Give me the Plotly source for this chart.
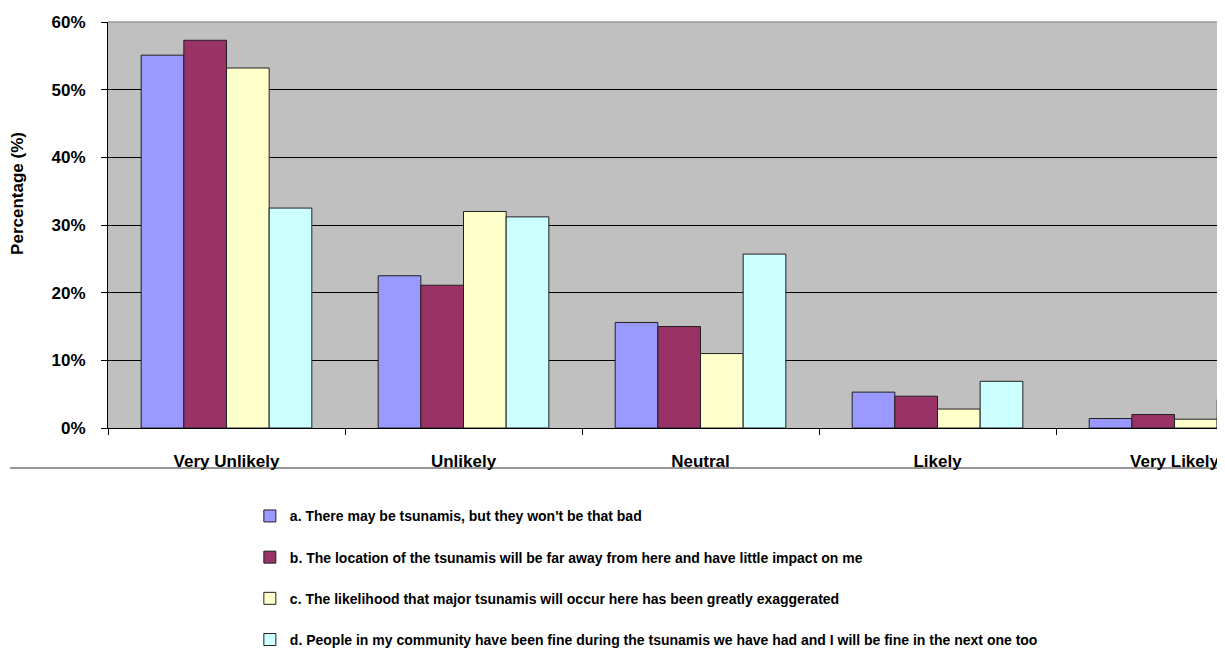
import plotly.graph_objects as go

categories = ["Very Unlikely", "Unlikely", "Neutral", "Likely", "Very Likely"]
series_names = [
    "a. There may be tsunamis, but they won't be that bad",
    "b. The location of the tsunamis will be far away from here and have little impact on me",
    "c. The likelihood that major tsunamis will occur here has been greatly exaggerated",
    "d. People in my community have been fine during the tsunamis we have had and I will be fine in the next one too",
]
series_a = [55.1, 22.5, 15.6, 5.3, 1.4]
series_b = [57.3, 21.1, 15.0, 4.7, 2.0]
series_c = [53.2, 32.0, 11.0, 2.8, 1.3]
series_d = [32.5, 31.2, 25.7, 6.9, 4.2]
y_ticks = [0, 10, 20, 30, 40, 50, 60]
y_ticklabels = ["0%", "10%", "20%", "30%", "40%", "50%", "60%"]

colors = ["#9999FF", "#993366", "#FFFFCC", "#CCFFFF"]
FONT = "Liberation Sans, Arial, sans-serif"

fig = go.Figure()
for i, (name, vals) in enumerate(zip(series_names, [series_a, series_b, series_c, series_d])):
    fig.add_trace(go.Bar(
        x=categories, y=vals, name=name,
        marker=dict(color=colors[i], line=dict(color="#202020", width=1)),
        legendgroup=f"g{i}",
    ))

fig.update_layout(
    width=1217, height=644,
    margin=dict(l=100, r=0, t=14, b=224, autoexpand=False),
    paper_bgcolor="white",
    plot_bgcolor="#C0C0C0",
    barmode="group",
    bargap=0.28,
    bargroupgap=0,
    font=dict(family=FONT, color="#000000"),
    legend=dict(
        orientation="v",
        x=0.127, xanchor="left",
        yref="container", y=0.2355, yanchor="top",
        font=dict(family=FONT, size=14, weight="bold"),
        tracegroupgap=20,
        itemwidth=30,
        bgcolor="rgba(0,0,0,0)",
    ),
    xaxis=dict(
        range=[-0.5, 4.213],
        showline=True, linecolor="#000000", linewidth=1,
        ticks="outside", tickson="boundaries", ticklen=6, tickcolor="#000000",
        tickfont=dict(family=FONT, size=17, weight="bold"),
        ticklabelstandoff=18,
        showgrid=False,
    ),
    yaxis=dict(
        range=[0, 60],
        tickvals=y_ticks, ticktext=y_ticklabels,
        showline=True, linecolor="#000000", linewidth=1,
        ticks="outside", ticklen=6, tickcolor="#000000",
        tickfont=dict(family=FONT, size=17, weight="bold"),
        ticklabelstandoff=12,
        showgrid=True, gridcolor="#000000", gridwidth=1,
        zeroline=False,
    ),
    annotations=[dict(
        text="Percentage (%)", textangle=-90,
        xref="paper", yref="paper", x=-0.0806, y=0.579,
        xanchor="center", yanchor="middle", showarrow=False,
        font=dict(family=FONT, size=17, weight="bold"),
    )],
)

fig.add_shape(type="line", xref="paper", yref="paper",
              x0=-0.0877, x1=1, y0=-0.0985, y1=-0.0985,
              line=dict(color="#303030", width=1.2))
fig.add_shape(type="line", xref="paper", yref="paper",
              x0=0, x1=1, y0=1, y1=1,
              line=dict(color="#9a9a9a", width=1.5), layer="above")

fig.write_html("out.html")
